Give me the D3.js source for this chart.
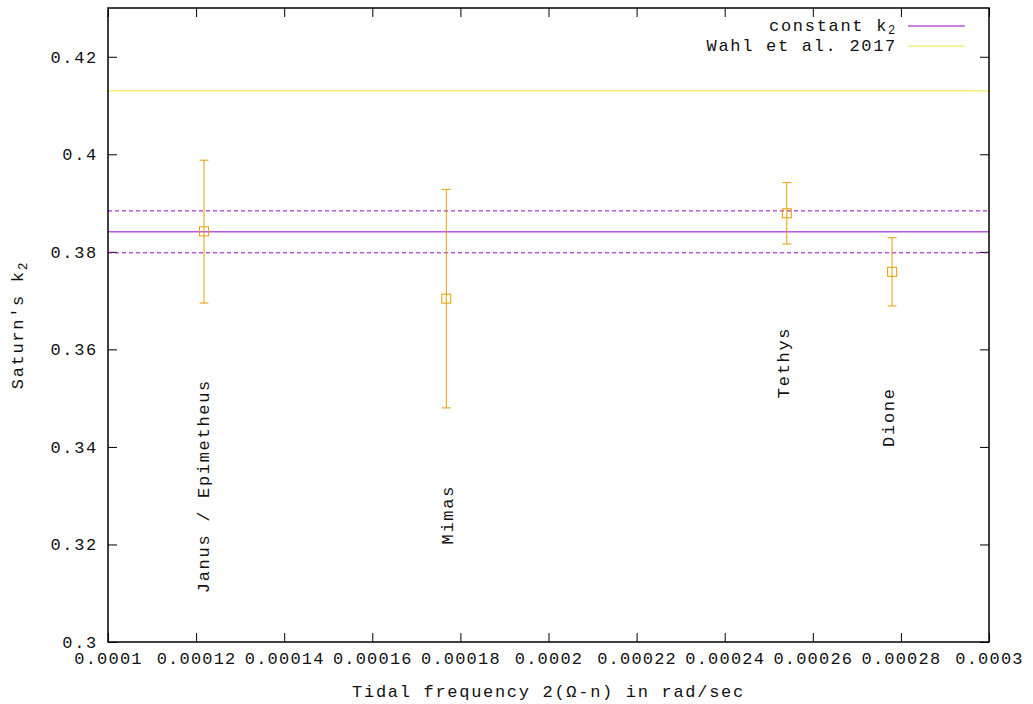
<!DOCTYPE html>
<html>
<head>
<meta charset="utf-8">
<script src="https://cdn.jsdelivr.net/npm/d3@7"></script>
<style>
body { margin: 0; background: white; }
text { font-family: "Liberation Mono", "DejaVu Sans Mono", monospace; font-size: 17px; letter-spacing: 1.7px; fill: #111; }
.xaxis text { letter-spacing: 1.2px; }
</style>
</head>
<body>
<svg id="chart"></svg>
<script>
// moons: tidal frequency, k2 and error bar ends
var moons = ["Janus / Epimetheus", "Mimas", "Tethys", "Dione"];
var freq = [0.0001218, 0.0001768, 0.0002541, 0.0002780];
var k2 = [0.3842, 0.3704, 0.3879, 0.3759];
var k2Low = [0.3695, 0.3480, 0.3816, 0.3689];
var k2High = [0.3988, 0.3928, 0.3942, 0.3829];

// label anchors (start of rotated text)
var labelX = [0.0001218, 0.0001774, 0.0002535, 0.0002773];
var labelY = [0.31, 0.32, 0.35, 0.34];

var constK2 = 0.3841;
var constK2Err = 0.0043;
var wahlK2 = 0.413;

var xTicks = [0.0001, 0.00012, 0.00014, 0.00016, 0.00018, 0.0002, 0.00022, 0.00024, 0.00026, 0.00028, 0.0003];
var xTickLabels = ["0.0001", "0.00012", "0.00014", "0.00016", "0.00018", "0.0002", "0.00022", "0.00024", "0.00026", "0.00028", "0.0003"];
var yTicks = [0.3, 0.32, 0.34, 0.36, 0.38, 0.4, 0.42];
var yTickLabels = ["0.3", "0.32", "0.34", "0.36", "0.38", "0.4", "0.42"];

var W = 1033, H = 704;
var mLeft = 108, mRight = 989, mTop = 8, mBottom = 642;

var svg = d3.select("#chart").attr("width", W).attr("height", H);

var x = d3.scaleLinear().domain([0.0001, 0.0003]).range([mLeft, mRight]);
var y = d3.scaleLinear().domain([0.3, 0.43]).range([mBottom, mTop]);

// axes, gnuplot style: ticks point inwards, mirrored on top and right
svg.append("g").attr("class", "xaxis").attr("transform", "translate(0," + mBottom + ")")
    .call(d3.axisBottom(x).tickValues(xTicks).tickSize(-9).tickPadding(10)
        .tickFormat(function(d, i) { return xTickLabels[i]; }));
svg.append("g").attr("transform", "translate(" + mLeft + ",0)")
    .call(d3.axisLeft(y).tickValues(yTicks).tickSize(-9).tickPadding(10)
        .tickFormat(function(d, i) { return yTickLabels[i]; }));
svg.append("g").attr("transform", "translate(0," + mTop + ")")
    .call(d3.axisTop(x).tickValues(xTicks).tickSize(-9).tickFormat(""));
svg.append("g").attr("transform", "translate(" + mRight + ",0)")
    .call(d3.axisRight(y).tickValues(yTicks).tickSize(-9).tickFormat(""));

svg.selectAll(".domain").remove();
svg.selectAll(".tick line").attr("stroke", "black").attr("stroke-width", 1);
svg.selectAll(".tick text").attr("font-family", null).attr("font-size", null).attr("fill", null);

// constant k2 with its uncertainty, and Wahl et al.
function hline(v, color, dash) {
    svg.append("line")
        .attr("x1", mLeft).attr("x2", mRight)
        .attr("y1", y(v)).attr("y2", y(v))
        .attr("stroke", color).attr("stroke-width", 1)
        .attr("stroke-dasharray", dash);
}
hline(wahlK2, "#f0e442", null);
hline(constK2, "#9400d3", null);
hline(constK2 + constK2Err, "#9400d3", "4,3");
hline(constK2 - constK2Err, "#9400d3", "4,3");

// error bars
var bars = svg.selectAll("g.bar")
    .data(moons)
    .enter()
    .append("g")
    .attr("class", "bar")
    .attr("stroke", "#e69f00")
    .attr("stroke-width", 1)
    .attr("fill", "none");
bars.append("line")
    .attr("x1", function(d, i) { return x(freq[i]); })
    .attr("x2", function(d, i) { return x(freq[i]); })
    .attr("y1", function(d, i) { return y(k2Low[i]); })
    .attr("y2", function(d, i) { return y(k2High[i]); });
bars.append("line")
    .attr("x1", function(d, i) { return x(freq[i]) - 4.5; })
    .attr("x2", function(d, i) { return x(freq[i]) + 4.5; })
    .attr("y1", function(d, i) { return y(k2Low[i]); })
    .attr("y2", function(d, i) { return y(k2Low[i]); });
bars.append("line")
    .attr("x1", function(d, i) { return x(freq[i]) - 4.5; })
    .attr("x2", function(d, i) { return x(freq[i]) + 4.5; })
    .attr("y1", function(d, i) { return y(k2High[i]); })
    .attr("y2", function(d, i) { return y(k2High[i]); });
bars.append("rect")
    .attr("x", function(d, i) { return x(freq[i]) - 4.5; })
    .attr("y", function(d, i) { return y(k2[i]) - 4.5; })
    .attr("width", 9).attr("height", 9);

// moon names, rotated
svg.selectAll("text.moon")
    .data(moons)
    .enter()
    .append("text")
    .attr("class", "moon")
    .attr("dominant-baseline", "central")
    .attr("transform", function(d, i) {
        return "translate({x},{y}) rotate(-90)".replace("{x}", x(labelX[i])).replace("{y}", y(labelY[i]));
    })
    .text(function(d) { return d; });

// border
svg.append("rect")
    .attr("x", mLeft).attr("y", mTop)
    .attr("width", mRight - mLeft).attr("height", mBottom - mTop)
    .attr("fill", "none").attr("stroke", "black").attr("stroke-width", 1.5);

// axis titles
svg.append("text")
    .attr("x", (mLeft + mRight) / 2).attr("y", 697)
    .attr("text-anchor", "middle")
    .text("Tidal frequency 2(Ω-n) in rad/sec");

var ytitle = svg.append("text")
    .attr("text-anchor", "middle")
    .attr("transform", "translate(23,325) rotate(-90)");
ytitle.append("tspan").text("Saturn's k");
ytitle.append("tspan").attr("dy", 4).attr("font-size", "13px").text("2");

// legend
var legendNames = ["constant k", "Wahl et al. 2017"];
var legendColors = ["#9400d3", "#f0e442"];
var legendY = [26, 46];
var leg = svg.selectAll("g.legend")
    .data(legendNames)
    .enter()
    .append("g")
    .attr("class", "legend");
leg.append("line")
    .attr("x1", 908).attr("x2", 965)
    .attr("y1", function(d, i) { return legendY[i]; })
    .attr("y2", function(d, i) { return legendY[i]; })
    .attr("stroke", function(d, i) { return legendColors[i]; })
    .attr("stroke-width", 1);
var legText = leg.append("text")
    .attr("x", 897)
    .attr("y", function(d, i) { return legendY[i] + 5; })
    .attr("text-anchor", "end");
legText.append("tspan").text(function(d) { return d; });
legText.filter(function(d, i) { return i === 0; })
    .append("tspan").attr("dy", 3).attr("font-size", "12px").text("2");
</script>
</body>
</html>
